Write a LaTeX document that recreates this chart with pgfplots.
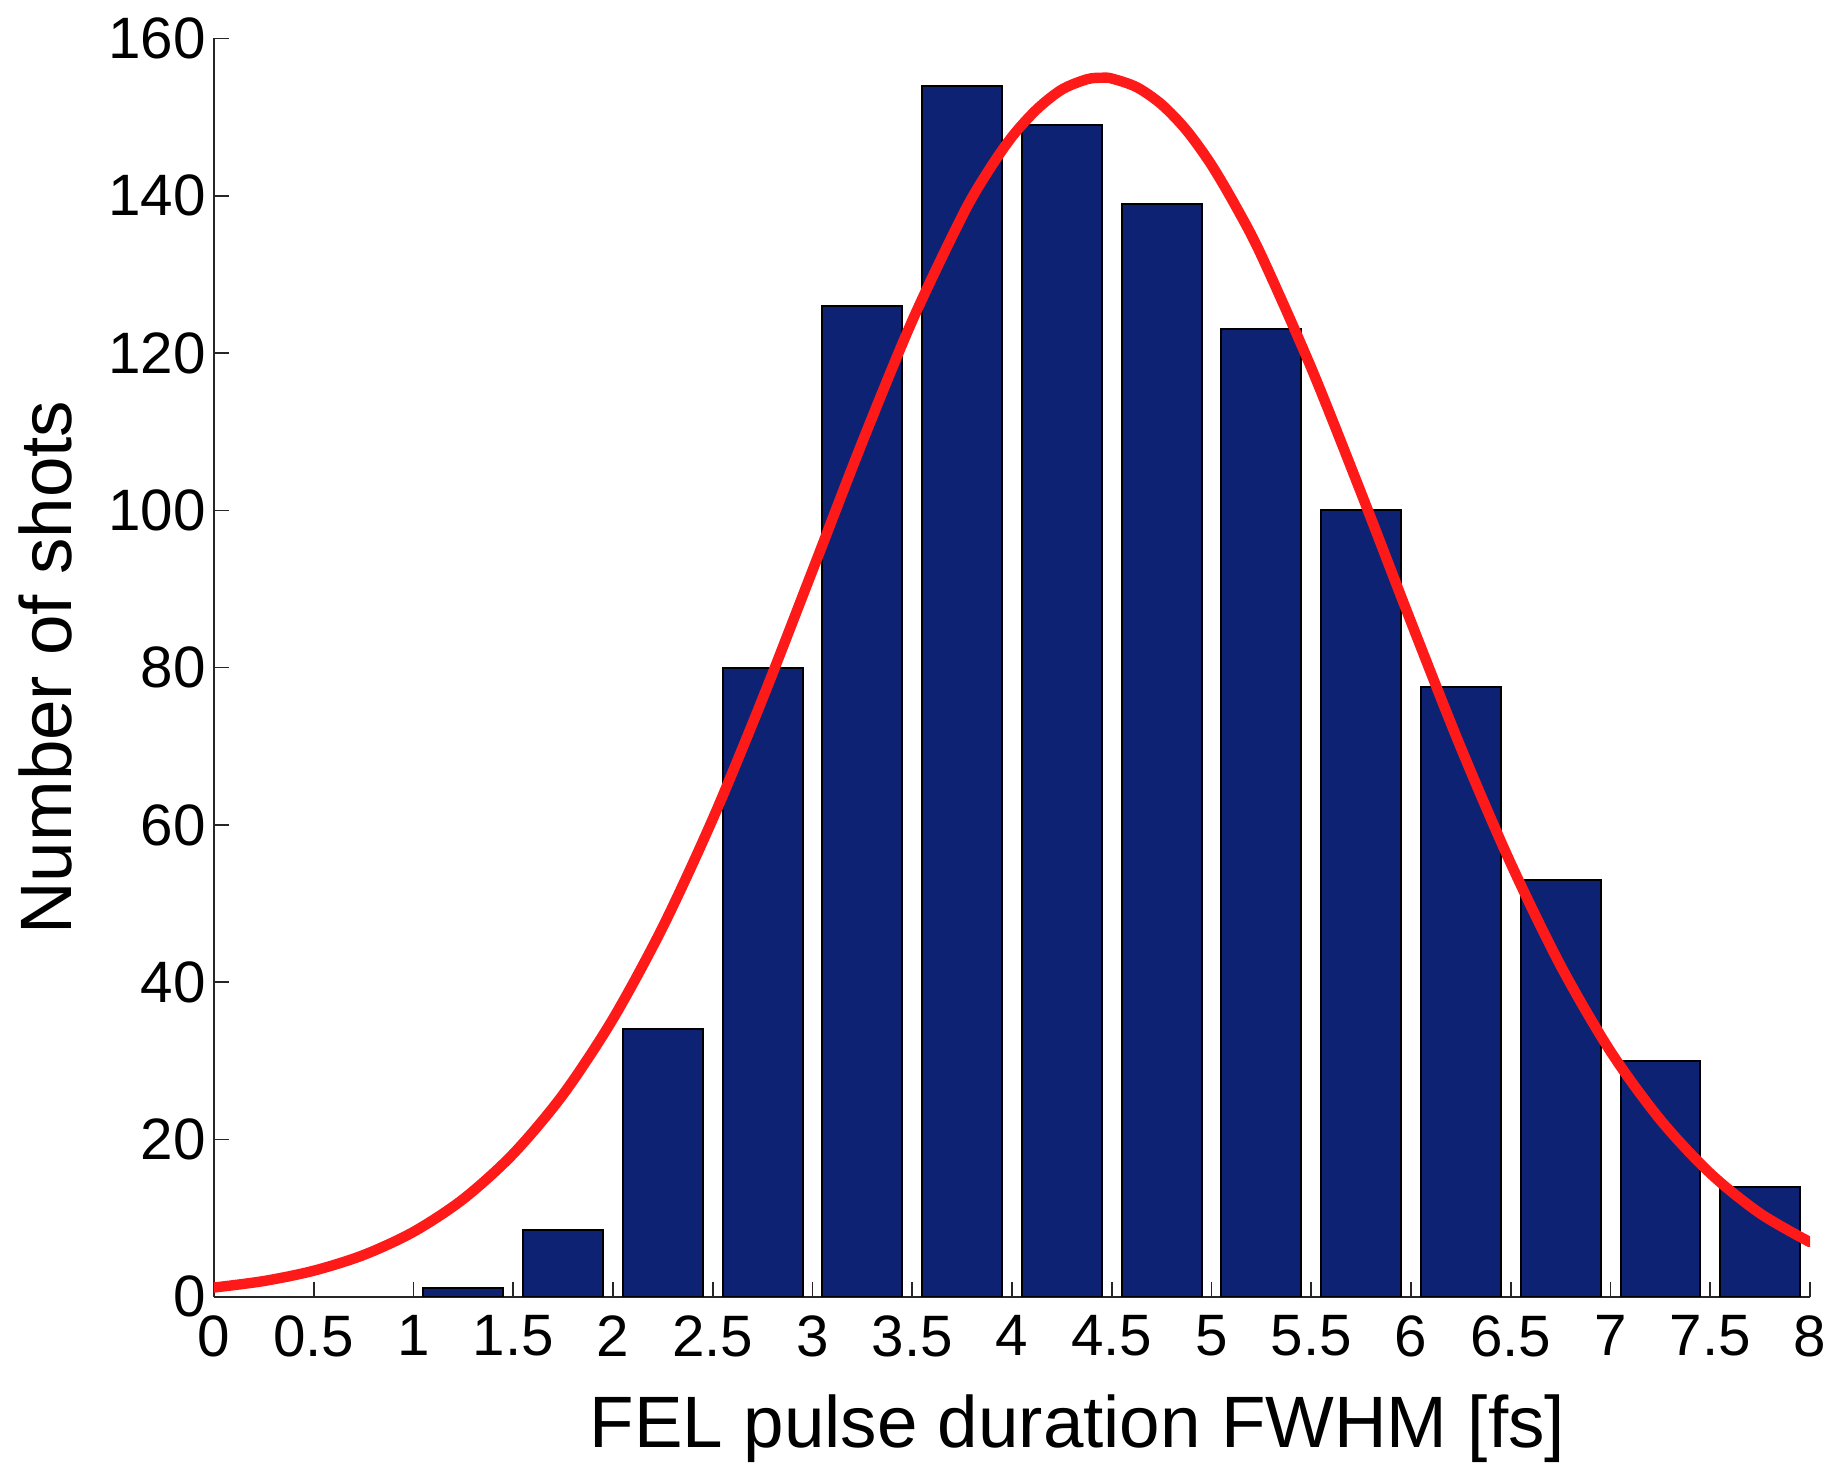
\documentclass[border=0pt]{standalone}
\usepackage{pgfplots}
\pgfplotsset{compat=1.18}
\usepackage{fontspec}
\setmainfont{Liberation Sans}
\definecolor{barblue}{RGB}{14,34,116}
\definecolor{fitred}{RGB}{255,26,26}
\begin{document}
\begin{tikzpicture}
\begin{axis}[
  scale only axis, width=399pt, height=314.6pt,
  xmin=0, xmax=8, ymin=0, ymax=160,
  axis x line*=bottom, axis y line*=left,
  axis line style={line width=0.5pt, black!85},
  xtick={0,0.5,...,8}, ytick={0,20,...,160},
  xticklabels={0,0.5,1,1.5,2,2.5,3,3.5,4,4.5,5,5.5,6,6.5,7,7.5,8},
  yticklabels={0,20,40,60,80,100,120,140,160},
  tick align=inside, major tick length=3.8pt,
  tick style={black!85, line width=0.4pt},
  ticklabel style={font=\fontsize{14.6}{16}\selectfont},
  x tick label style={yshift=-1.2pt},
  y tick label style={xshift=1.5pt},
  xlabel={FEL pulse duration FWHM [fs]},
  ylabel={Number of shots},
  label style={font=\fontsize{18.2}{20}\selectfont},
  xlabel style={at={(axis description cs:0.541,-0.12)}, anchor=base},
  ylabel style={at={(axis description cs:-0.08897,0.5)}, anchor=base, rotate=0},
]
\addplot[ybar, bar width=0.4, fill=barblue, draw=black, line width=0.5pt] coordinates {
  (1.25,1.1) (1.75,8.5) (2.25,34) (2.75,80) (3.25,126) (3.75,154) (4.25,149)
  (4.75,139) (5.25,123) (5.75,100) (6.25,77.5) (6.75,53) (7.25,30) (7.75,14)
};
\addplot[fitred, line width=2.6pt, smooth, line cap=round] coordinates {
  (0,1.18) (0.25,2.01) (0.5,3.32) (0.75,5.32) (1,8.26) (1.25,12.44) (1.5,18.18)
  (1.75,25.73) (2,35.34) (2.25,47.05) (2.5,60.75) (2.75,76.07) (3,92.35) (3.25,108.7)
  (3.5,124.1) (3.75,137.4) (3.875,142.9) (4,147.5) (4.125,151.0) (4.25,153.5)
  (4.375,154.8) (4.45,155.0) (4.5,154.9) (4.625,153.8) (4.75,151.6) (4.875,148.3)
  (5,143.9) (5.125,138.5) (5.25,132.4) (5.5,118.1) (5.75,102.2) (6,85.8) (6.25,69.8)
  (6.5,55.1) (6.75,42.1) (7,31.2) (7.25,22.5) (7.5,15.7) (7.75,10.6) (8,6.95)
};
\end{axis}
\pgfresetboundingbox
\path ([shift={(-53.5pt,-45.75pt)}]current axis.south west) rectangle ([shift={(6.75pt,9.6pt)}]current axis.north east);
\end{tikzpicture}
\end{document}
